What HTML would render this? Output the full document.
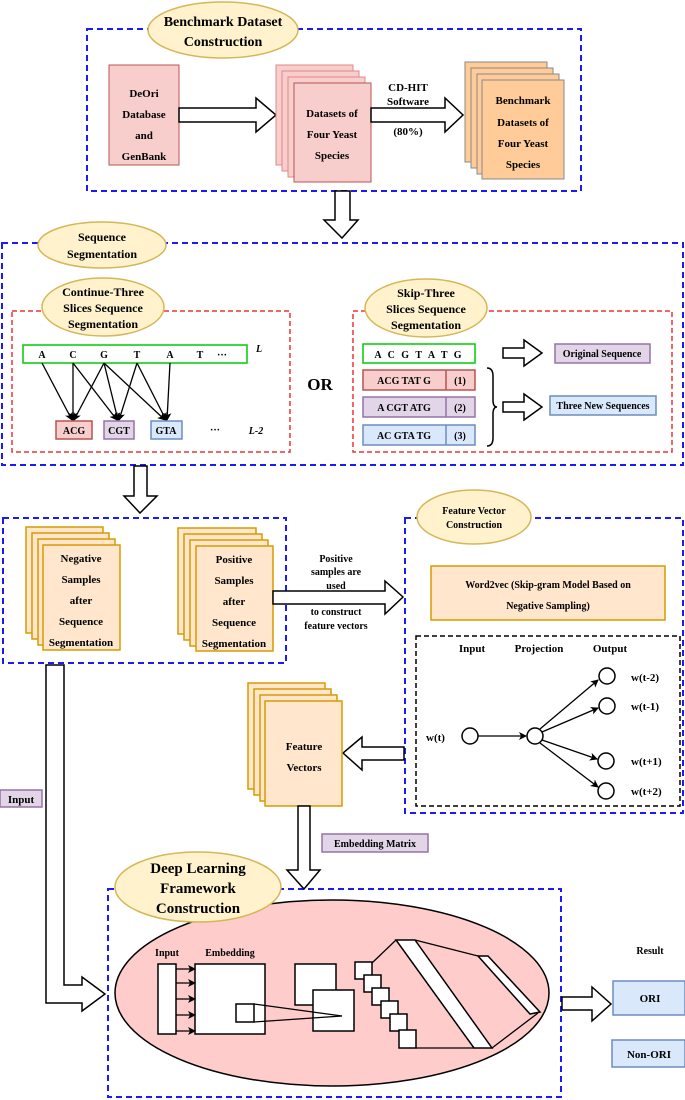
<!DOCTYPE html>
<html><head><meta charset="utf-8"><style>body{margin:0;background:#fff}svg{display:block}text{font-family:"Liberation Serif",serif;font-weight:bold;fill:#000}</style></head><body>
<svg width="685" height="1100" viewBox="0 0 685 1100" xmlns="http://www.w3.org/2000/svg">
<defs><marker id="ah" markerWidth="8" markerHeight="8" refX="7" refY="4" orient="auto" markerUnits="userSpaceOnUse"><path d="M0,0 L8,4 L0,8 L2,4 z" fill="#000"/></marker></defs>
<g fill="none" stroke="#1a1aff" stroke-width="2" stroke-dasharray="6,4">
<rect x="87" y="29" width="494" height="162"/>
<rect x="2" y="243" width="681" height="222"/>
<rect x="3" y="518" width="283" height="145"/>
<rect x="405" y="518" width="278" height="295"/>
<rect x="108" y="889" width="453" height="208"/>
</g>
<g fill="none" stroke="#ee3333" stroke-width="1.5" stroke-dasharray="5,3">
<rect x="12" y="311" width="278" height="141"/><rect x="353" y="311" width="319" height="141"/></g>
<rect x="416" y="636" width="264" height="170" fill="none" stroke="#000" stroke-width="1.5" stroke-dasharray="5,3"/>
<!-- top section -->
<rect x="109" y="65" width="70" height="100" fill="#f8cecc" stroke="#b85450"/>
<g font-size="11" text-anchor="middle"><text x="144" y="97">DeOri</text><text x="144" y="118">Database</text><text x="144" y="139">and</text><text x="144" y="160">GenBank</text></g>
<path d="M179,108 H256 V98 L276,115 L256,132 V122 H179 Z" fill="#fff" stroke="#000" stroke-width="1.5"/>
<g fill="#f8cecc" stroke="#d88"><rect x="276" y="65" width="77" height="100"/><rect x="282" y="71" width="77" height="100"/><rect x="288" y="77" width="77" height="100"/><rect x="294" y="83" width="77" height="99" stroke="#b85450"/></g>
<g font-size="11" text-anchor="middle"><text x="332" y="117">Datasets of</text><text x="332" y="138">Four Yeast</text><text x="332" y="159">Species</text></g>
<path d="M371,108 H445 V98 L463,115 L445,132 V122 H371 Z" fill="#fff" stroke="#000" stroke-width="1.5"/>
<g font-size="11" text-anchor="middle"><text x="408" y="91">CD-HIT</text><text x="408" y="105">Software</text><text x="408" y="135">(80%)</text></g>
<g fill="#ffcc99" stroke="#888"><rect x="465" y="62" width="82" height="100"/><rect x="471" y="68" width="82" height="100"/><rect x="477" y="74" width="82" height="100"/><rect x="482" y="80" width="82" height="99"/></g>
<g font-size="11" text-anchor="middle"><text x="523" y="104">Benchmark</text><text x="523" y="126">Datasets of</text><text x="523" y="147">Four Yeast</text><text x="523" y="168">Species</text></g>
<ellipse cx="223" cy="30" rx="75" ry="28" fill="#fff2cc" stroke="#d6b656" stroke-width="1.5"/>
<g font-size="14" text-anchor="middle"><text x="223" y="26">Benchmark Dataset</text><text x="223" y="46">Construction</text></g>
<path d="M335,191 H350 V220 H358 L342,238 L324,220 H335 Z" fill="#fff" stroke="#000" stroke-width="1.5"/>
<!-- seq seg -->
<ellipse cx="102" cy="245" rx="64" ry="23" fill="#fff2cc" stroke="#d6b656" stroke-width="1.5"/>
<g font-size="12" text-anchor="middle"><text x="102" y="241">Sequence</text><text x="102" y="258">Segmentation</text></g>
<ellipse cx="103" cy="307" rx="61" ry="29" fill="#fff2cc" stroke="#d6b656" stroke-width="1.5"/>
<g font-size="12" text-anchor="middle"><text x="103" y="296">Continue-Three</text><text x="103" y="312">Slices Sequence</text><text x="103" y="328">Segmentation</text></g>
<ellipse cx="426" cy="308" rx="61" ry="29" fill="#fff2cc" stroke="#d6b656" stroke-width="1.5"/>
<g font-size="12" text-anchor="middle"><text x="426" y="297">Skip-Three</text><text x="426" y="313">Slices Sequence</text><text x="426" y="329">Segmentation</text></g>
<rect x="23" y="345" width="224" height="18" fill="#fff" stroke="#00cc00" stroke-width="1.5"/>
<g font-size="10" text-anchor="middle"><text x="42" y="358">A</text><text x="73" y="358">C</text><text x="104" y="358">G</text><text x="137" y="358">T</text><text x="170" y="358">A</text><text x="200" y="358">T</text><text x="222" y="358">···</text></g>
<text x="256" y="352" font-size="10" font-style="italic">L</text>
<g stroke="#000" stroke-width="1.3" marker-end="url(#ah)">
<line x1="42" y1="363" x2="72" y2="420"/><line x1="73" y1="363" x2="73" y2="420"/><line x1="73" y1="363" x2="117" y2="420"/>
<line x1="104" y1="363" x2="74" y2="420"/><line x1="104" y1="363" x2="118" y2="420"/><line x1="104" y1="363" x2="165" y2="420"/>
<line x1="137" y1="363" x2="119" y2="420"/><line x1="137" y1="363" x2="166" y2="420"/><line x1="170" y1="363" x2="167" y2="420"/></g>
<rect x="56" y="421" width="36" height="18" fill="#f8cecc" stroke="#b85450" stroke-width="1.5"/><text x="74" y="434" font-size="10" text-anchor="middle">ACG</text>
<rect x="104" y="421" width="30" height="18" fill="#e1d5e7" stroke="#9673a6" stroke-width="1.5"/><text x="119" y="434" font-size="10" text-anchor="middle">CGT</text>
<rect x="151" y="421" width="31" height="18" fill="#dae8fc" stroke="#6c8ebf" stroke-width="1.5"/><text x="166" y="434" font-size="10" text-anchor="middle">GTA</text>
<text x="215" y="433" font-size="10" text-anchor="middle">···</text><text x="256" y="434" font-size="10" font-style="italic" text-anchor="middle">L-2</text>
<text x="320" y="390" font-size="17" text-anchor="middle">OR</text>
<rect x="363" y="344" width="112" height="19" fill="#fff" stroke="#00cc00" stroke-width="1.5"/><text x="419" y="358" font-size="10" text-anchor="middle" letter-spacing="2">A C G T A T G</text>
<g stroke-width="1.5">
<rect x="363" y="370" width="112" height="20" fill="#f8cecc" stroke="#b85450"/><line x1="446" y1="370" x2="446" y2="390" stroke="#b85450"/>
<rect x="363" y="397" width="112" height="20" fill="#e1d5e7" stroke="#9673a6"/><line x1="446" y1="397" x2="446" y2="417" stroke="#9673a6"/>
<rect x="363" y="425" width="112" height="20" fill="#dae8fc" stroke="#6c8ebf"/><line x1="446" y1="425" x2="446" y2="445" stroke="#6c8ebf"/></g>
<g font-size="10" text-anchor="middle"><text x="404" y="384">ACG  TAT  G</text><text x="460" y="384">(1)</text><text x="404" y="411">A  CGT  ATG</text><text x="460" y="411">(2)</text><text x="404" y="439">AC  GTA  TG</text><text x="460" y="439">(3)</text></g>
<path d="M487,368 Q493,368 493,376 V400 Q493,407 497,407 Q493,407 493,414 V438 Q493,446 487,446" fill="none" stroke="#000" stroke-width="1.5"/>
<path d="M503,348 H524 V340 L542,353 L524,366 V358 H503 Z" fill="#fff" stroke="#000" stroke-width="1.5"/>
<path d="M503,402 H524 V394 L542,407 L524,420 V412 H503 Z" fill="#fff" stroke="#000" stroke-width="1.5"/>
<rect x="555" y="344" width="95" height="19" fill="#e1d5e7" stroke="#9673a6" stroke-width="1.5"/><text x="602" y="357" font-size="10" text-anchor="middle">Original Sequence</text>
<rect x="550" y="396" width="106" height="19" fill="#dae8fc" stroke="#6c8ebf" stroke-width="1.5"/><text x="603" y="409" font-size="10" text-anchor="middle">Three New Sequences</text>
<path d="M134,466 H147 V496 H157 L140,513 L124,496 H134 Z" fill="#fff" stroke="#000" stroke-width="1.5"/>
<!-- samples -->
<g fill="#ffe6cc" stroke="#d79b00" stroke-width="1.5"><rect x="26" y="527" width="77" height="106"/><rect x="32" y="533" width="77" height="106"/><rect x="38" y="539" width="77" height="106"/><rect x="43" y="545" width="77" height="105"/>
<rect x="178" y="528" width="78" height="106"/><rect x="184" y="534" width="78" height="106"/><rect x="190" y="540" width="78" height="106"/><rect x="196" y="546" width="77" height="105"/></g>
<g font-size="11" text-anchor="middle"><text x="81" y="562">Negative</text><text x="81" y="583">Samples</text><text x="81" y="604">after</text><text x="81" y="625">Sequence</text><text x="81" y="646">Segmentation</text>
<text x="234" y="563">Positive</text><text x="234" y="584">Samples</text><text x="234" y="605">after</text><text x="234" y="626">Sequence</text><text x="234" y="647">Segmentation</text></g>
<path d="M273,591 H385 V581 L403,597 L385,614 V604 H273 Z" fill="#fff" stroke="#000" stroke-width="1.5"/>
<g font-size="10" text-anchor="middle"><text x="336" y="562">Positive</text><text x="336" y="575">samples are</text><text x="336" y="589">used</text><text x="336" y="615">to construct</text><text x="336" y="629">feature vectors</text></g>
<!-- feature vector -->
<ellipse cx="474" cy="517" rx="57" ry="27" fill="#fff2cc" stroke="#d6b656" stroke-width="1.5"/>
<g font-size="10" text-anchor="middle"><text x="474" y="514">Feature Vector</text><text x="474" y="528">Construction</text></g>
<rect x="431" y="566" width="234" height="54" fill="#ffe6cc" stroke="#d79b00" stroke-width="1.5"/>
<g font-size="10" text-anchor="middle"><text x="548" y="588">Word2vec (Skip-gram Model Based on</text><text x="548" y="609">Negative Sampling)</text></g>
<g font-size="11" text-anchor="middle"><text x="472" y="652">Input</text><text x="539" y="652">Projection</text><text x="610" y="652">Output</text></g>
<g fill="#fff" stroke="#000" stroke-width="1.5"><circle cx="470" cy="736" r="8"/><circle cx="535" cy="736" r="8"/><circle cx="607" cy="676" r="8"/><circle cx="607" cy="706" r="8"/><circle cx="606" cy="761" r="8"/><circle cx="606" cy="791" r="8"/></g>
<g stroke="#000" stroke-width="1.3" marker-end="url(#ah)"><line x1="478" y1="736" x2="526" y2="736"/><line x1="540" y1="729" x2="598" y2="680"/><line x1="542" y1="732" x2="598" y2="708"/><line x1="542" y1="740" x2="597" y2="759"/><line x1="540" y1="743" x2="598" y2="787"/></g>
<g font-size="11"><text x="426" y="741">w(t)</text><text x="631" y="681">w(t-2)</text><text x="631" y="710">w(t-1)</text><text x="631" y="765">w(t+1)</text><text x="631" y="795">w(t+2)</text></g>
<path d="M404,747 H362 V737 L343,753 L362,770 V760 H404 Z" fill="#fff" stroke="#000" stroke-width="1.5"/>
<g fill="#ffe6cc" stroke="#d79b00" stroke-width="1.5"><rect x="248" y="683" width="77" height="106"/><rect x="254" y="689" width="77" height="106"/><rect x="260" y="695" width="77" height="106"/><rect x="265" y="701" width="77" height="105"/></g>
<g font-size="11" text-anchor="middle"><text x="304" y="750">Feature</text><text x="304" y="771">Vectors</text></g>
<!-- input arrow -->
<path d="M46,665 H64 V985 H82 V977 L105,994 L82,1011 V1003 H46 Z" fill="#fff" stroke="#000" stroke-width="1.5"/>
<rect x="0" y="790" width="42" height="17" fill="#e1d5e7" stroke="#9673a6" stroke-width="1.5"/><text x="21" y="803" font-size="11" text-anchor="middle">Input</text>
<path d="M298,806 H310 V870 H320 L304,889 L287,870 H298 Z" fill="#fff" stroke="#000" stroke-width="1.5"/>
<rect x="322" y="834" width="106" height="18" fill="#e1d5e7" stroke="#9673a6" stroke-width="1.5"/><text x="375" y="847" font-size="10" text-anchor="middle">Embedding Matrix</text>
<!-- deep learning -->
<ellipse cx="332" cy="993" rx="217" ry="93" fill="#ffcccc" stroke="#000" stroke-width="1.5"/>
<ellipse cx="198" cy="887" rx="83" ry="35" fill="#fff2cc" stroke="#d6b656" stroke-width="1.5"/>
<g font-size="15" text-anchor="middle"><text x="198" y="873">Deep Learning</text><text x="198" y="893">Framework</text><text x="198" y="913">Construction</text></g>
<g font-size="10" text-anchor="middle"><text x="167" y="956">Input</text><text x="230" y="956">Embedding</text></g>
<g fill="#fff" stroke="#000" stroke-width="1.5"><rect x="158" y="964" width="18" height="70"/><rect x="195" y="964" width="70" height="70"/><rect x="236" y="1004" width="18" height="18"/>
<rect x="295" y="964" width="41" height="41"/><rect x="313" y="990" width="41" height="41"/>
<rect x="355" y="962" width="17" height="17"/><rect x="364" y="975" width="17" height="17"/><rect x="372" y="988" width="17" height="17"/><rect x="381" y="1001" width="17" height="17"/><rect x="390" y="1014" width="17" height="17"/><rect x="399" y="1030" width="17" height="18"/>
<polygon points="396,940 415,940 492,1048 474,1048"/><polygon points="478,956 488,956 540,1012 530,1014"/></g>
<g stroke="#000" stroke-width="1.3" fill="none"><line x1="372" y1="963" x2="396" y2="940"/><line x1="415" y1="940" x2="478" y2="956"/><line x1="492" y1="1048" x2="538" y2="1013"/><line x1="416" y1="1048" x2="474" y2="1048"/><line x1="254" y1="1004" x2="342" y2="1016"/><line x1="254" y1="1022" x2="342" y2="1016"/></g>
<g stroke="#000" stroke-width="1.2" marker-end="url(#ah)"><line x1="176" y1="969" x2="195" y2="969"/><line x1="176" y1="983" x2="195" y2="983"/><line x1="176" y1="999" x2="195" y2="999"/><line x1="176" y1="1015" x2="195" y2="1015"/><line x1="176" y1="1031" x2="195" y2="1031"/></g>
<path d="M562,997 H592 V987 L611,1004 L592,1021 V1010 H562 Z" fill="#fff" stroke="#000" stroke-width="1.5"/>
<text x="650" y="954" font-size="10" text-anchor="middle">Result</text>
<rect x="613" y="981" width="72" height="34" fill="#dae8fc" stroke="#6c8ebf" stroke-width="1.5"/><text x="650" y="1002" font-size="11" text-anchor="middle">ORI</text>
<rect x="612" y="1040" width="73" height="27" fill="#dae8fc" stroke="#6c8ebf" stroke-width="1.5"/><text x="649" y="1058" font-size="11" text-anchor="middle">Non-ORI</text>
</svg>
</body></html>
